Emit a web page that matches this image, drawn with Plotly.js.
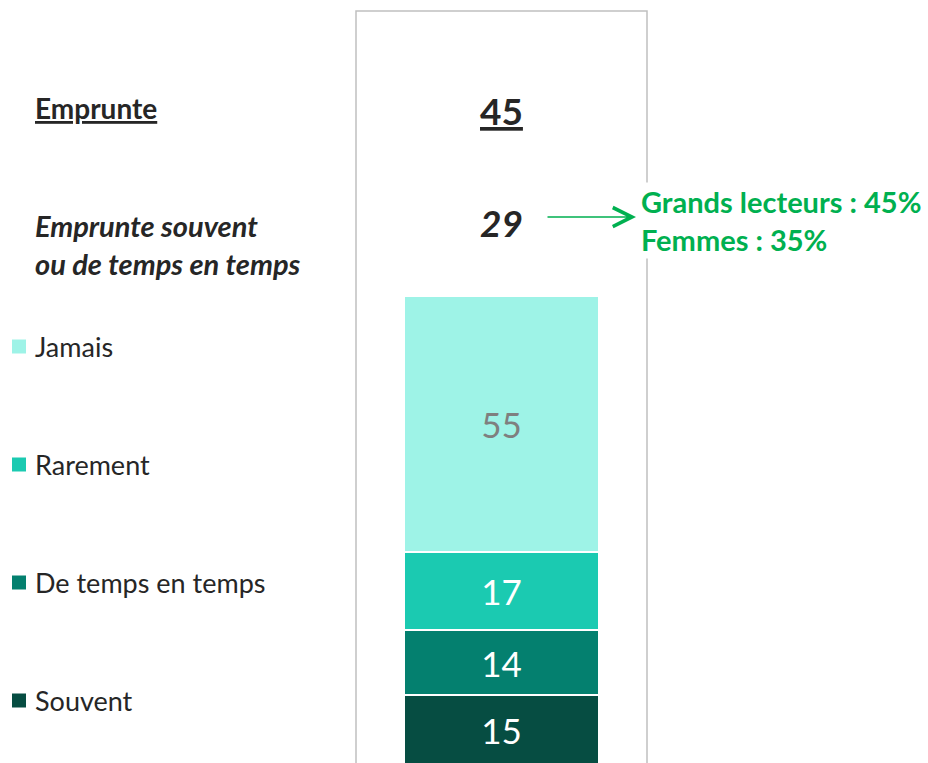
<!DOCTYPE html>
<html>
<head>
<meta charset="utf-8">
<script src="https://cdn.plot.ly/plotly-3.0.1.min.js"></script>
<style>html,body{margin:0;padding:0;background:#fff;overflow:hidden}</style>
</head>
<body>
<div id="chart" style="width:928px;height:763px"></div>
<script>
// Data (bottom to top of the stack)
const categories = ['Souvent', 'De temps en temps', 'Rarement', 'Jamais'];
const values = [15, 14, 17, 55];
const colors = ['#064D42', '#04806F', '#1BCAB1', '#9EF3E7'];
const labelColors = ['#ffffff', '#ffffff', '#ffffff', '#7f7f7f'];
const totalLabel = 'Emprunte';
const totalValue = 45;
const subLabel = 'Emprunte souvent<br>ou de temps en temps';
const subValue = 29;
const calloutLines = ['Grands lecteurs : 45%', 'Femmes : 35%'];

const FONT = 'Lato, "Open Sans", sans-serif';
const W = 928, H = 763;
const L = 356, R = 281, T = 11, B = 0;
const pw = W - L - R, ph = H - T - B;
const px = v => (v - L) / pw;
const py = v => (H - B - v) / ph;

const traces = categories.map((c, i) => ({
  type: 'bar',
  name: c,
  x: [0],
  y: [values[i]],
  width: 0.67,
  marker: { color: colors[i], line: { color: '#ffffff', width: 2 } },
  text: [String(values[i])],
  textposition: 'inside',
  insidetextanchor: 'middle',
  textangle: 0,
  constraintext: 'none',
  textfont: { family: FONT, size: 35, color: labelColors[i] },
  hoverinfo: 'name+y',
  showlegend: false
}));

const legendY = { 'Jamais': 346.5, 'Rarement': 464.5, 'De temps en temps': 582.5, 'Souvent': 700.5 };

const annotations = [
  { xref: 'paper', yref: 'paper', x: px(33), y: py(108), xanchor: 'left', yanchor: 'middle',
    text: '<b><u>' + totalLabel + '</u></b>', showarrow: false,
    font: { family: FONT, size: 28, color: '#262626' } },
  { xref: 'paper', yref: 'paper', x: 0.5, y: py(110), xanchor: 'center', yanchor: 'middle',
    text: '<b><u>' + totalValue + '</u></b>', showarrow: false,
    font: { family: FONT, size: 37, color: '#262626' } },
  { xref: 'paper', yref: 'paper', x: px(33), y: py(244), xanchor: 'left', yanchor: 'middle', align: 'left',
    text: '<b><i>' + subLabel + '</i></b>', showarrow: false,
    font: { family: FONT, size: 29, color: '#262626' } },
  { xref: 'paper', yref: 'paper', x: 0.5, y: py(222), xanchor: 'center', yanchor: 'middle',
    text: '<b><i>' + subValue + '</i></b>', showarrow: false,
    font: { family: FONT, size: 37, color: '#262626' } },
  { xref: 'paper', yref: 'paper', x: px(639), y: py(220), xanchor: 'left', yanchor: 'middle', align: 'left',
    text: '<b>' + calloutLines.join('<br>') + '</b>', showarrow: false, bgcolor: '#ffffff',
    font: { family: FONT, size: 29, color: '#00B050' } },
  { xref: 'paper', yref: 'paper', x: px(636), y: py(217), text: '', showarrow: true,
    ax: -90, ay: 0, arrowhead: 5, arrowsize: 2.5, arrowwidth: 1.5, arrowcolor: '#00B050', standoff: 0 }
];

const shapes = [
  { type: 'rect', xref: 'paper', yref: 'paper', x0: 0, x1: 1, y0: -0.1, y1: 1,
    line: { color: '#c0c0c0', width: 1.5 }, fillcolor: 'rgba(0,0,0,0)', layer: 'below' }
];

categories.forEach((c, i) => {
  const cy = legendY[c];
  shapes.push({ type: 'rect', xref: 'paper', yref: 'paper',
    x0: px(12), x1: px(26), y0: py(cy + 7), y1: py(cy - 7),
    line: { width: 0 }, fillcolor: colors[i] });
  annotations.push({ xref: 'paper', yref: 'paper', x: px(33), y: py(cy), xanchor: 'left', yanchor: 'middle',
    text: c, showarrow: false, font: { family: FONT, size: 27, color: '#262626' } });
});

const layout = {
  width: W, height: H,
  margin: { l: L, r: R, t: T, b: B, pad: 0 },
  paper_bgcolor: '#ffffff', plot_bgcolor: '#ffffff',
  barmode: 'stack',
  showlegend: false,
  xaxis: { range: [-0.5, 0.5], visible: false, fixedrange: true },
  yaxis: { range: [0.43, 162.5], visible: false, fixedrange: true },
  annotations: annotations,
  shapes: shapes,
  font: { family: FONT }
};

Plotly.newPlot('chart', traces, layout, { displayModeBar: false, staticPlot: true });
</script>
</body>
</html>
